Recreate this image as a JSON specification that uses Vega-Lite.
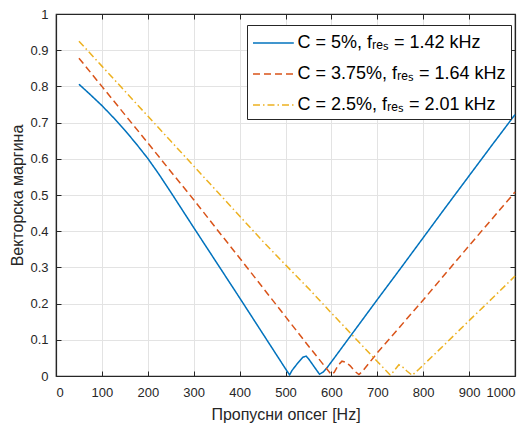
{
  "$schema": "https://vega.github.io/schema/vega-lite/v6.json",
  "autosize": {"type": "none"},
  "padding": {"left": 56, "top": 14, "right": 15, "bottom": 50},
  "width": 459,
  "height": 362,
  "background": "white",
  "config": {
    "font": "Liberation Sans",
    "view": {"stroke": "#262626", "strokeWidth": 1.2},
    "axis": {
      "domainColor": "#262626",
      "tickColor": "#262626",
      "domainWidth": 1.2,
      "tickWidth": 1,
      "tickSize": -5,
      "labelFontSize": 13,
      "labelColor": "#262626",
      "titleColor": "#262626",
      "titleFontSize": 16,
      "titleFontWeight": "normal",
      "gridColor": "#e3e3e3"
    },
    "legend": {
      "title": null,
      "orient": "none",
      "legendX": 191,
      "legendY": 11,
      "strokeColor": "#262626",
      "fillColor": "white",
      "padding": 5,
      "symbolType": "M-1.7,0H1.7",
      "symbolSize": 576,
      "symbolOffset": 8.4,
      "symbolStrokeWidth": 1.5,
      "symbolFillColor": "transparent",
      "labelFontSize": 18,
      "labelColor": "#000000",
      "labelOffset": 11,
      "labelLimit": 400,
      "rowPadding": 9
    }
  },
  "data": {
    "values": [
      {"s": "C = 5%, fᵣₑₛ = 1.42 kHz", "x": 50, "y": 0.806},
      {"s": "C = 5%, fᵣₑₛ = 1.42 kHz", "x": 75, "y": 0.777},
      {"s": "C = 5%, fᵣₑₛ = 1.42 kHz", "x": 100, "y": 0.747},
      {"s": "C = 5%, fᵣₑₛ = 1.42 kHz", "x": 125, "y": 0.714},
      {"s": "C = 5%, fᵣₑₛ = 1.42 kHz", "x": 150, "y": 0.679},
      {"s": "C = 5%, fᵣₑₛ = 1.42 kHz", "x": 175, "y": 0.641},
      {"s": "C = 5%, fᵣₑₛ = 1.42 kHz", "x": 200, "y": 0.601},
      {"s": "C = 5%, fᵣₑₛ = 1.42 kHz", "x": 225, "y": 0.556},
      {"s": "C = 5%, fᵣₑₛ = 1.42 kHz", "x": 250, "y": 0.508},
      {"s": "C = 5%, fᵣₑₛ = 1.42 kHz", "x": 275, "y": 0.459},
      {"s": "C = 5%, fᵣₑₛ = 1.42 kHz", "x": 300, "y": 0.41},
      {"s": "C = 5%, fᵣₑₛ = 1.42 kHz", "x": 350, "y": 0.313},
      {"s": "C = 5%, fᵣₑₛ = 1.42 kHz", "x": 400, "y": 0.216},
      {"s": "C = 5%, fᵣₑₛ = 1.42 kHz", "x": 450, "y": 0.118},
      {"s": "C = 5%, fᵣₑₛ = 1.42 kHz", "x": 500, "y": 0.02},
      {"s": "C = 5%, fᵣₑₛ = 1.42 kHz", "x": 509, "y": 0.003},
      {"s": "C = 5%, fᵣₑₛ = 1.42 kHz", "x": 514, "y": 0.015},
      {"s": "C = 5%, fᵣₑₛ = 1.42 kHz", "x": 525, "y": 0.033},
      {"s": "C = 5%, fᵣₑₛ = 1.42 kHz", "x": 538, "y": 0.052},
      {"s": "C = 5%, fᵣₑₛ = 1.42 kHz", "x": 545, "y": 0.055},
      {"s": "C = 5%, fᵣₑₛ = 1.42 kHz", "x": 550, "y": 0.048},
      {"s": "C = 5%, fᵣₑₛ = 1.42 kHz", "x": 560, "y": 0.03},
      {"s": "C = 5%, fᵣₑₛ = 1.42 kHz", "x": 574, "y": 0.005},
      {"s": "C = 5%, fᵣₑₛ = 1.42 kHz", "x": 578, "y": 0.008},
      {"s": "C = 5%, fᵣₑₛ = 1.42 kHz", "x": 583, "y": 0.012},
      {"s": "C = 5%, fᵣₑₛ = 1.42 kHz", "x": 590, "y": 0.022},
      {"s": "C = 5%, fᵣₑₛ = 1.42 kHz", "x": 600, "y": 0.039},
      {"s": "C = 5%, fᵣₑₛ = 1.42 kHz", "x": 650, "y": 0.125},
      {"s": "C = 5%, fᵣₑₛ = 1.42 kHz", "x": 700, "y": 0.211},
      {"s": "C = 5%, fᵣₑₛ = 1.42 kHz", "x": 750, "y": 0.296},
      {"s": "C = 5%, fᵣₑₛ = 1.42 kHz", "x": 800, "y": 0.382},
      {"s": "C = 5%, fᵣₑₛ = 1.42 kHz", "x": 850, "y": 0.468},
      {"s": "C = 5%, fᵣₑₛ = 1.42 kHz", "x": 900, "y": 0.553},
      {"s": "C = 5%, fᵣₑₛ = 1.42 kHz", "x": 950, "y": 0.638},
      {"s": "C = 5%, fᵣₑₛ = 1.42 kHz", "x": 1000, "y": 0.722},

      {"s": "C = 3.75%, fᵣₑₛ = 1.64 kHz", "x": 50, "y": 0.878},
      {"s": "C = 3.75%, fᵣₑₛ = 1.64 kHz", "x": 100, "y": 0.8},
      {"s": "C = 3.75%, fᵣₑₛ = 1.64 kHz", "x": 150, "y": 0.722},
      {"s": "C = 3.75%, fᵣₑₛ = 1.64 kHz", "x": 200, "y": 0.644},
      {"s": "C = 3.75%, fᵣₑₛ = 1.64 kHz", "x": 250, "y": 0.565},
      {"s": "C = 3.75%, fᵣₑₛ = 1.64 kHz", "x": 300, "y": 0.487},
      {"s": "C = 3.75%, fᵣₑₛ = 1.64 kHz", "x": 350, "y": 0.406},
      {"s": "C = 3.75%, fᵣₑₛ = 1.64 kHz", "x": 400, "y": 0.326},
      {"s": "C = 3.75%, fᵣₑₛ = 1.64 kHz", "x": 450, "y": 0.245},
      {"s": "C = 3.75%, fᵣₑₛ = 1.64 kHz", "x": 500, "y": 0.164},
      {"s": "C = 3.75%, fᵣₑₛ = 1.64 kHz", "x": 550, "y": 0.083},
      {"s": "C = 3.75%, fᵣₑₛ = 1.64 kHz", "x": 586, "y": 0.026},
      {"s": "C = 3.75%, fᵣₑₛ = 1.64 kHz", "x": 600, "y": 0.004},
      {"s": "C = 3.75%, fᵣₑₛ = 1.64 kHz", "x": 606, "y": 0.01},
      {"s": "C = 3.75%, fᵣₑₛ = 1.64 kHz", "x": 615, "y": 0.03},
      {"s": "C = 3.75%, fᵣₑₛ = 1.64 kHz", "x": 623, "y": 0.041},
      {"s": "C = 3.75%, fᵣₑₛ = 1.64 kHz", "x": 632, "y": 0.038},
      {"s": "C = 3.75%, fᵣₑₛ = 1.64 kHz", "x": 641, "y": 0.028},
      {"s": "C = 3.75%, fᵣₑₛ = 1.64 kHz", "x": 651, "y": 0.013},
      {"s": "C = 3.75%, fᵣₑₛ = 1.64 kHz", "x": 660, "y": 0.004},
      {"s": "C = 3.75%, fᵣₑₛ = 1.64 kHz", "x": 667, "y": 0.012},
      {"s": "C = 3.75%, fᵣₑₛ = 1.64 kHz", "x": 700, "y": 0.064},
      {"s": "C = 3.75%, fᵣₑₛ = 1.64 kHz", "x": 750, "y": 0.137},
      {"s": "C = 3.75%, fᵣₑₛ = 1.64 kHz", "x": 800, "y": 0.21},
      {"s": "C = 3.75%, fᵣₑₛ = 1.64 kHz", "x": 850, "y": 0.285},
      {"s": "C = 3.75%, fᵣₑₛ = 1.64 kHz", "x": 900, "y": 0.36},
      {"s": "C = 3.75%, fᵣₑₛ = 1.64 kHz", "x": 950, "y": 0.434},
      {"s": "C = 3.75%, fᵣₑₛ = 1.64 kHz", "x": 1000, "y": 0.508},

      {"s": "C = 2.5%, fᵣₑₛ = 2.01 kHz", "x": 50, "y": 0.925},
      {"s": "C = 2.5%, fᵣₑₛ = 2.01 kHz", "x": 100, "y": 0.856},
      {"s": "C = 2.5%, fᵣₑₛ = 2.01 kHz", "x": 150, "y": 0.787},
      {"s": "C = 2.5%, fᵣₑₛ = 2.01 kHz", "x": 200, "y": 0.718},
      {"s": "C = 2.5%, fᵣₑₛ = 2.01 kHz", "x": 250, "y": 0.649},
      {"s": "C = 2.5%, fᵣₑₛ = 2.01 kHz", "x": 300, "y": 0.58},
      {"s": "C = 2.5%, fᵣₑₛ = 2.01 kHz", "x": 350, "y": 0.511},
      {"s": "C = 2.5%, fᵣₑₛ = 2.01 kHz", "x": 400, "y": 0.442},
      {"s": "C = 2.5%, fᵣₑₛ = 2.01 kHz", "x": 450, "y": 0.373},
      {"s": "C = 2.5%, fᵣₑₛ = 2.01 kHz", "x": 500, "y": 0.307},
      {"s": "C = 2.5%, fᵣₑₛ = 2.01 kHz", "x": 553, "y": 0.238},
      {"s": "C = 2.5%, fᵣₑₛ = 2.01 kHz", "x": 600, "y": 0.174},
      {"s": "C = 2.5%, fᵣₑₛ = 2.01 kHz", "x": 650, "y": 0.107},
      {"s": "C = 2.5%, fᵣₑₛ = 2.01 kHz", "x": 700, "y": 0.04},
      {"s": "C = 2.5%, fᵣₑₛ = 2.01 kHz", "x": 728, "y": 0.003},
      {"s": "C = 2.5%, fᵣₑₛ = 2.01 kHz", "x": 735, "y": 0.012},
      {"s": "C = 2.5%, fᵣₑₛ = 2.01 kHz", "x": 747, "y": 0.031},
      {"s": "C = 2.5%, fᵣₑₛ = 2.01 kHz", "x": 755, "y": 0.025},
      {"s": "C = 2.5%, fᵣₑₛ = 2.01 kHz", "x": 765, "y": 0.013},
      {"s": "C = 2.5%, fᵣₑₛ = 2.01 kHz", "x": 776, "y": 0.002},
      {"s": "C = 2.5%, fᵣₑₛ = 2.01 kHz", "x": 790, "y": 0.018},
      {"s": "C = 2.5%, fᵣₑₛ = 2.01 kHz", "x": 800, "y": 0.03},
      {"s": "C = 2.5%, fᵣₑₛ = 2.01 kHz", "x": 850, "y": 0.091},
      {"s": "C = 2.5%, fᵣₑₛ = 2.01 kHz", "x": 900, "y": 0.153},
      {"s": "C = 2.5%, fᵣₑₛ = 2.01 kHz", "x": 950, "y": 0.214},
      {"s": "C = 2.5%, fᵣₑₛ = 2.01 kHz", "x": 1000, "y": 0.276}
    ]
  },
  "layer": [
    {
      "mark": {"type": "line", "strokeWidth": 1.5},
      "encoding": {
        "x": {
          "field": "x", "type": "quantitative",
          "scale": {"domain": [0, 1000], "nice": false},
          "axis": {
            "values": [0, 100, 200, 300, 400, 500, 600, 700, 800, 900, 1000],
            "format": "d",
            "title": "Пропусни опсег [Hz]",
            "labelPadding": 15,
            "titlePadding": 7
          }
        },
        "y": {
          "field": "y", "type": "quantitative",
          "scale": {"domain": [0, 1], "nice": false},
          "axis": {
            "values": [0, 0.1, 0.2, 0.3, 0.4, 0.5, 0.6, 0.7, 0.8, 0.9, 1],
            "format": "~g",
            "title": "Векторска маргина",
            "labelPadding": 13,
            "titlePadding": 4
          }
        },
        "color": {
          "field": "s", "type": "nominal",
          "scale": {
            "domain": ["C = 5%, fᵣₑₛ = 1.42 kHz", "C = 3.75%, fᵣₑₛ = 1.64 kHz", "C = 2.5%, fᵣₑₛ = 2.01 kHz"],
            "range": ["#0072BD", "#D95319", "#EDB120"]
          }
        },
        "strokeDash": {
          "field": "s", "type": "nominal",
          "scale": {
            "domain": ["C = 5%, fᵣₑₛ = 1.42 kHz", "C = 3.75%, fᵣₑₛ = 1.64 kHz", "C = 2.5%, fᵣₑₛ = 2.01 kHz"],
            "range": [[1, 0], [7, 4], [7, 3, 1.5, 3]]
          }
        }
      }
    },
    {
      "mark": {"type": "line", "opacity": 0},
      "encoding": {
        "x": {
          "field": "x", "type": "quantitative",
          "scale": {"domain": [0, 1000], "nice": false},
          "axis": {"orient": "top", "labels": false, "title": null, "grid": false,
                   "values": [0, 100, 200, 300, 400, 500, 600, 700, 800, 900, 1000]}
        },
        "y": {
          "field": "y", "type": "quantitative",
          "scale": {"domain": [0, 1], "nice": false},
          "axis": {"orient": "right", "labels": false, "title": null, "grid": false,
                   "values": [0, 0.1, 0.2, 0.3, 0.4, 0.5, 0.6, 0.7, 0.8, 0.9, 1]}
        }
      }
    }
  ],
  "resolve": {"axis": {"x": "independent", "y": "independent"}}
}
